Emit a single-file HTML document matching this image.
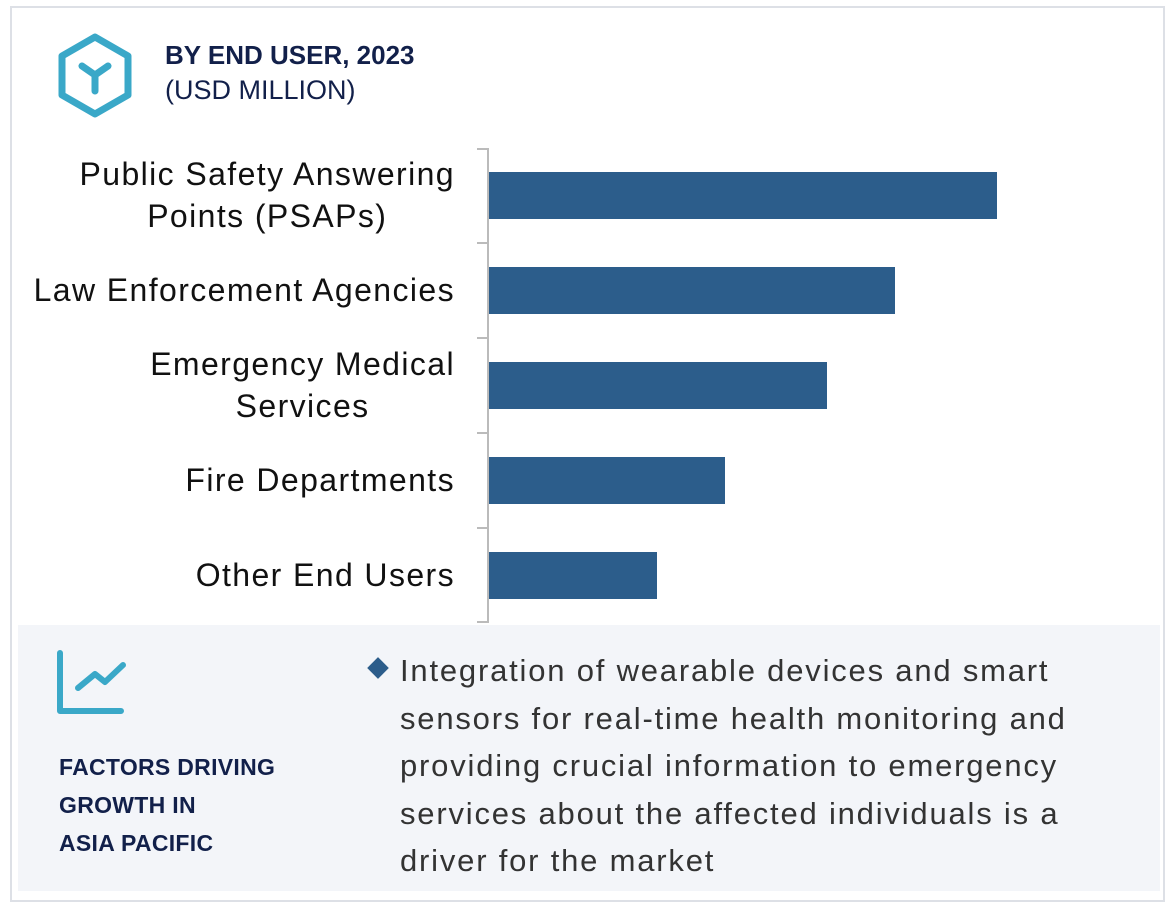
<!DOCTYPE html>
<html><head><style>
body{margin:0;width:1170px;height:909px;background:#fff;position:relative;overflow:hidden;font-family:"Liberation Sans",sans-serif;}
.a{position:absolute}
.lbl{position:absolute;right:715px;text-align:center;font-size:32px;color:#111;line-height:42px;white-space:nowrap;letter-spacing:1.4px}
.bar{position:absolute;left:489px;height:47px;background:#2c5d8b}
.tick{position:absolute;left:477px;width:11px;height:2px;background:#bbb}
</style></head><body>
<div class="a" style="left:10px;top:6px;width:1151px;height:892px;border:2px solid #dde0e6"></div>
<svg class="a" style="left:55px;top:33px" width="80" height="86" viewBox="0 0 80 86">
<polygon points="40,4 73,23 73,62 40,81 7,62 7,23" fill="none" stroke="#3aa8c8" stroke-width="7" stroke-linejoin="round"/>
<path d="M27,33 L40,42 L53,33 M40,42 L40,58" fill="none" stroke="#3aa8c8" stroke-width="7" stroke-linecap="round"/>
</svg>
<div class="a" style="left:165px;top:40px;font-size:26px;font-weight:bold;color:#12204a">BY END USER, 2023</div>
<div class="a" style="left:165px;top:75px;font-size:27px;color:#12204a">(USD MILLION)</div>

<div class="a" style="left:487px;top:148px;width:2px;height:475px;background:#bbb"></div>
<div class="tick" style="top:148px"></div><div class="tick" style="top:242px"></div><div class="tick" style="top:337px"></div><div class="tick" style="top:432px"></div><div class="tick" style="top:527px"></div><div class="tick" style="top:621px"></div>

<div class="lbl" style="top:153px">Public Safety Answering<br>Points (PSAPs)</div>
<div class="lbl" style="top:269px">Law Enforcement Agencies</div>
<div class="lbl" style="top:343px">Emergency Medical<br>Services</div>
<div class="lbl" style="top:459px">Fire Departments</div>
<div class="lbl" style="top:554px">Other End Users</div>

<div class="bar" style="top:172px;width:508px"></div>
<div class="bar" style="top:267px;width:406px"></div>
<div class="bar" style="top:362px;width:338px"></div>
<div class="bar" style="top:457px;width:236px"></div>
<div class="bar" style="top:552px;width:168px"></div>

<div class="a" style="left:18px;top:625px;width:1142px;height:266px;background:#f3f5f9"></div>
<svg class="a" style="left:55px;top:648px" width="72" height="70" viewBox="0 0 72 70">
<path d="M5,5 L5,63 L66,63" fill="none" stroke="#3aa8c8" stroke-width="6" stroke-linecap="round" stroke-linejoin="round"/>
<path d="M23,40 L40,26 L50,34 L68,17" fill="none" stroke="#3aa8c8" stroke-width="6" stroke-linecap="round" stroke-linejoin="round"/>
</svg>
<div class="a" style="left:59px;top:748px;font-size:23px;font-weight:bold;color:#12204a;line-height:38px;letter-spacing:0.3px">FACTORS DRIVING<br>GROWTH IN<br>ASIA PACIFIC</div>
<div class="a" style="left:369px;top:659px;width:18px;height:18px;background:#2c5d8b;transform:rotate(45deg) scale(0.85)"></div>
<div class="a" style="left:400px;top:647px;width:760px;font-size:31px;color:#333;line-height:47.5px;letter-spacing:1.8px;white-space:nowrap">Integration of wearable devices and smart<br>sensors for real-time health monitoring and<br>providing crucial information to emergency<br>services about the affected individuals is a<br>driver for the market</div>
</body></html>
